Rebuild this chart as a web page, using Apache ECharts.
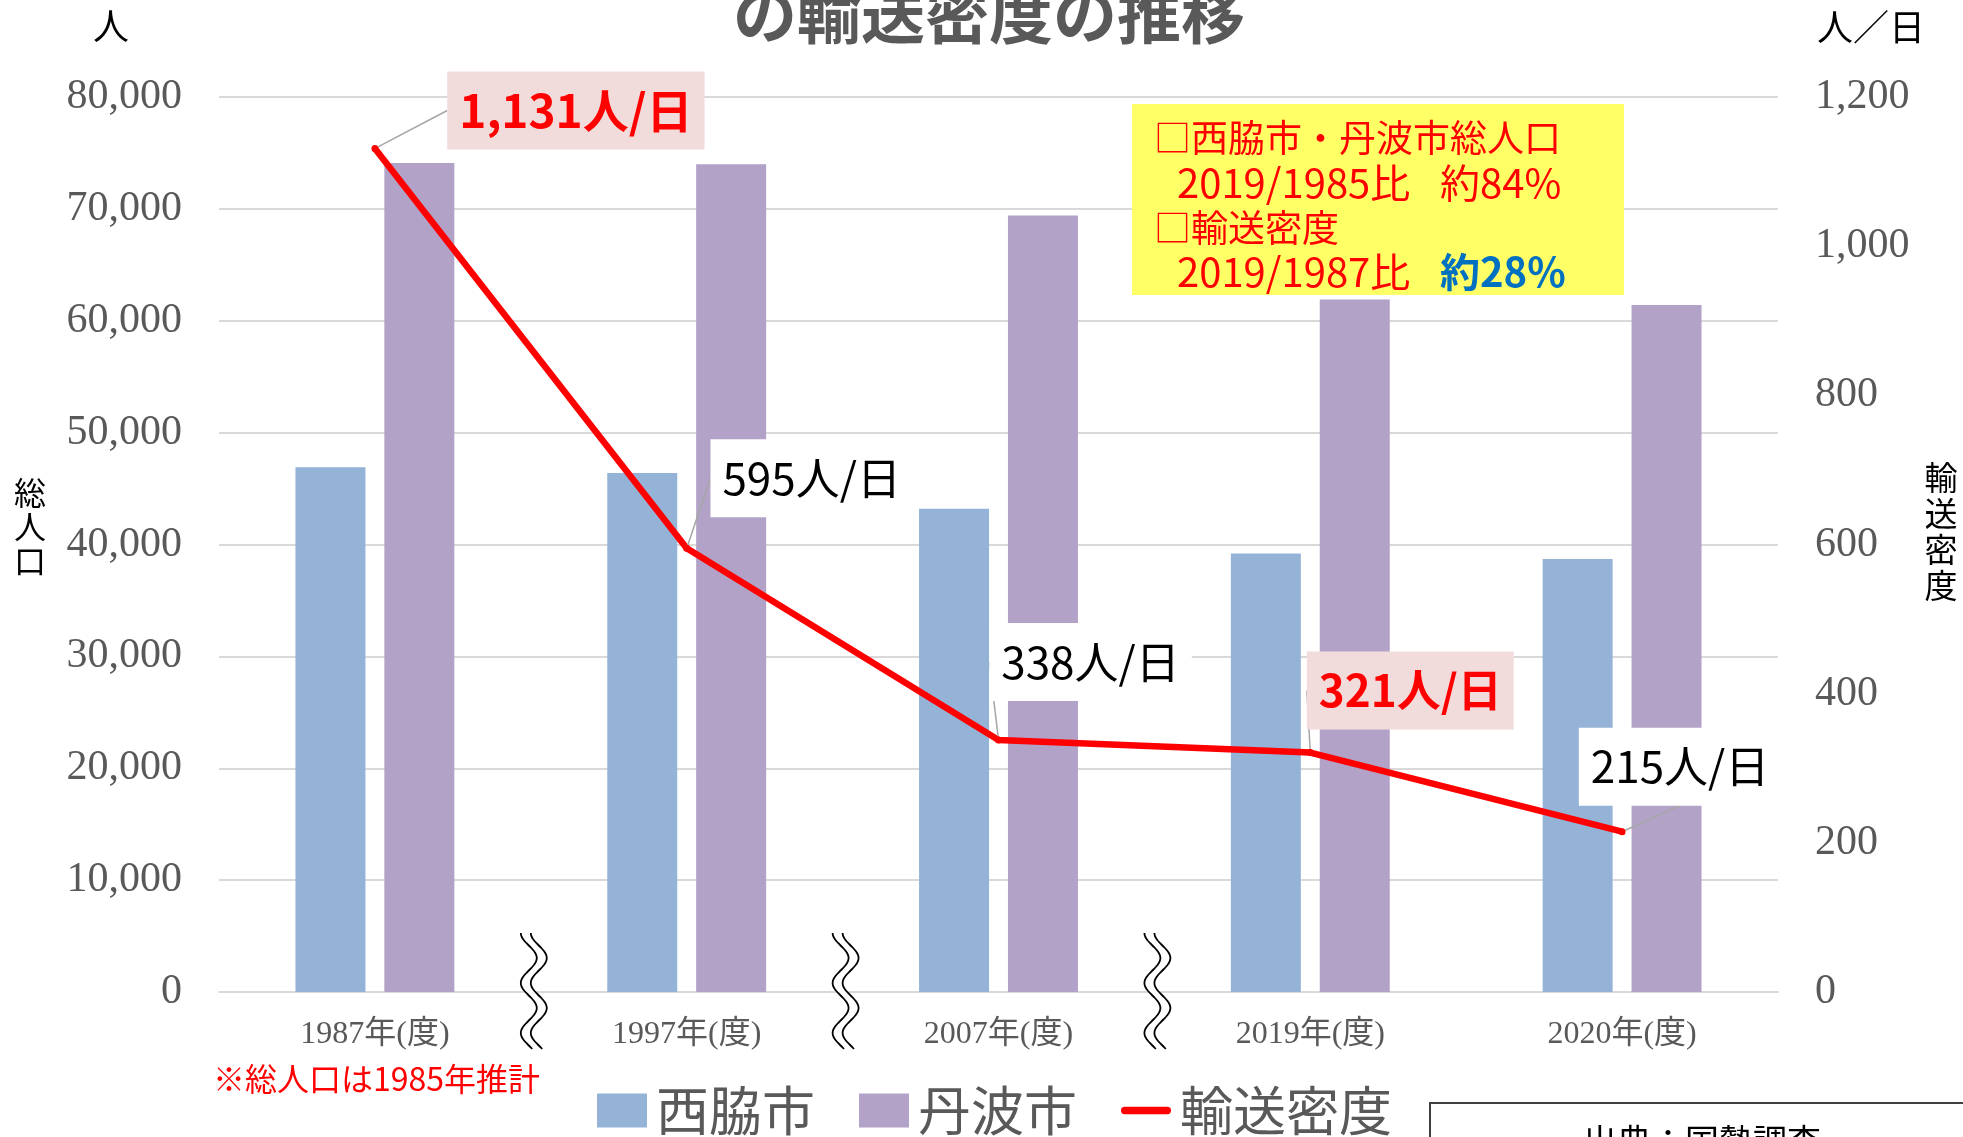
<!DOCTYPE html>
<html><head><meta charset="utf-8">
<script src="https://cdn.jsdelivr.net/npm/echarts@6/dist/echarts.min.js"></script>
<style>html,body{margin:0;padding:0;background:#fff}#c{width:1963px;height:1137px}</style>
</head><body><div id="c"></div>
<script>
// ---- data ----
const categories = ['1987年(度)', '1997年(度)', '2007年(度)', '2019年(度)', '2020年(度)'];
const nishiwakiPop = [46900, 46400, 43200, 39200, 38700];
const tambaPop = [74100, 74000, 69400, 61900, 61400];
const density = [1131, 595, 338, 321, 215];
const leftAxisTicks = [0, 10000, 20000, 30000, 40000, 50000, 60000, 70000, 80000];
const rightAxisTicks = [0, 200, 400, 600, 800, 1000, 1200];
const highlightedPoints = [0, 3];
// ---- layout ----
const labelOffsets = [[201, -38], [125, -70], [92, -78], [100, -62], [58, -65]];

const CJK = '"Noto Sans CJK JP", sans-serif';
const SERIF = '"Liberation Serif", "Noto Sans CJK JP", serif';
const fmt = v => Number(v).toLocaleString('en-US');

const chart = echarts.init(document.getElementById('c'), null, {renderer: 'canvas'});

const densityData = density.map((v, i) => {
  const hi = highlightedPoints.indexOf(i) >= 0;
  return {
    value: v,
    label: hi ? {
      color: '#FF0000', fontWeight: 'bold', fontSize: i === 0 ? 46 : 44,
      backgroundColor: '#F2DCDB', padding: [17, 12]
    } : {
      color: '#000000', fontWeight: 'normal', fontSize: 44,
      backgroundColor: '#FFFFFF', padding: [17, 12]
    }
  };
});

chart.setOption({
  animation: false,
  backgroundColor: '#ffffff',
  grid: {left: 219, right: 185, top: 97, bottom: 145},
  legend: {
    left: 597, top: 1084, padding: 0, itemWidth: 50, itemHeight: 34, itemGap: 44,
    textStyle: {fontSize: 53, color: '#595959', fontFamily: CJK, padding: [0, 0, 0, 4]},
    data: [
      {name: '西脇市', icon: 'rect'},
      {name: '丹波市', icon: 'rect'},
      {name: '輸送密度', icon: 'path://M4,0 L50,0 A4,4 0 0 1 50,8 L4,8 A4,4 0 0 1 4,0 Z'}
    ]
  },
  xAxis: {
    type: 'category', data: categories, boundaryGap: true,
    axisLine: {show: true, lineStyle: {color: '#D9D9D9', width: 2}},
    axisTick: {show: false},
    axisLabel: {fontSize: 32, color: '#595959', fontFamily: SERIF, margin: 27}
  },
  yAxis: [
    {
      type: 'value', min: leftAxisTicks[0], max: leftAxisTicks[leftAxisTicks.length - 1],
      interval: leftAxisTicks[1] - leftAxisTicks[0],
      axisLine: {show: false}, axisTick: {show: false},
      splitLine: {show: true, lineStyle: {color: '#D9D9D9', width: 2}},
      axisLabel: {fontSize: 42, color: '#595959', fontFamily: SERIF, margin: 37, formatter: fmt}
    },
    {
      type: 'value', min: rightAxisTicks[0], max: rightAxisTicks[rightAxisTicks.length - 1],
      interval: rightAxisTicks[1] - rightAxisTicks[0],
      axisLine: {show: false}, axisTick: {show: false}, splitLine: {show: false},
      axisLabel: {fontSize: 42, color: '#595959', fontFamily: SERIF, margin: 37, formatter: fmt}
    }
  ],
  series: [
    {
      name: '西脇市', type: 'bar', data: nishiwakiPop, barWidth: 70, barGap: '27%',
      itemStyle: {color: '#95B3D7'}
    },
    {
      name: '丹波市', type: 'bar', data: tambaPop, barWidth: 70, barGap: '27%',
      itemStyle: {color: '#B3A2C7'}
    },
    {
      name: '輸送密度', type: 'line', yAxisIndex: 1, data: densityData,
      symbol: 'circle', symbolSize: 7, showSymbol: true, z: 5,
      lineStyle: {color: '#FF0000', width: 6.5},
      itemStyle: {color: '#FF0000'},
      label: {
        show: true, position: 'inside', fontFamily: CJK, lineHeight: 44,
        formatter: p => fmt(p.value) + '人/日'
      },
      labelLine: {show: true, lineStyle: {color: '#A6A6A6', width: 1.5}},
      labelLayout: p => ({dx: labelOffsets[p.dataIndex][0], dy: labelOffsets[p.dataIndex][1]})
    }
  ]
});

// ---- decorations ----
function waveLine(cx, top, h, off) {
  const pts = [];
  for (let t = 0; t <= h; t += 2) {
    pts.push([cx + off - 8 * Math.cos(2 * Math.PI * t / 50), top + t]);
  }
  return pts;
}
const graphics = [];
for (let i = 0; i < 3; i++) {
  const xa = chart.convertToPixel({xAxisIndex: 0}, i);
  const xb = chart.convertToPixel({xAxisIndex: 0}, i + 1);
  const cx = (xa + xb) / 2 + 3;
  const a = waveLine(cx, 933, 117, -5), b = waveLine(cx, 933, 117, 5);
  graphics.push({type: 'polygon', z: 50, shape: {points: a.concat(b.slice().reverse())}, style: {fill: '#ffffff', stroke: null}});
  graphics.push({type: 'polyline', z: 51, shape: {points: a}, style: {stroke: '#000000', lineWidth: 1.8, fill: null}});
  graphics.push({type: 'polyline', z: 51, shape: {points: b}, style: {stroke: '#000000', lineWidth: 1.8, fill: null}});
}
// title (cut at top)
graphics.push({type: 'text', z: 60, x: 989, y: 14, style: {text: 'の輸送密度の推移', align: 'center', verticalAlign: 'middle', font: 'bold 64px "Noto Sans CJK JP"', fill: '#595959'}});
// unit labels
graphics.push({type: 'text', z: 60, x: 111, y: 26, style: {text: '人', align: 'center', verticalAlign: 'middle', font: '36px "Noto Sans CJK JP"', fill: '#000000'}});
graphics.push({type: 'text', z: 60, x: 1871, y: 27, style: {text: '人／日', align: 'center', verticalAlign: 'middle', font: '36px "Noto Sans CJK JP"', fill: '#000000'}});
// vertical axis titles
graphics.push({type: 'text', z: 60, x: 30, y: 527, style: {text: '総\n人\n口', align: 'center', verticalAlign: 'middle', font: '32px "Noto Sans CJK JP"', lineHeight: 34, fill: '#000000'}});
graphics.push({type: 'text', z: 60, x: 1941, y: 531, style: {text: '輸\n送\n密\n度', align: 'center', verticalAlign: 'middle', font: '33px "Noto Sans CJK JP"', lineHeight: 36, fill: '#000000'}});
// yellow note box
graphics.push({type: 'rect', z: 40, shape: {x: 1132, y: 104, width: 492, height: 191}, style: {fill: '#FFFF66'}});
const yl = {font: '37px "Noto Sans CJK JP"', fill: '#FF0000', verticalAlign: 'middle'};
const yl2 = {font: '40px "Noto Sans CJK JP"', fill: '#FF0000', verticalAlign: 'middle'};
graphics.push({type: 'text', z: 41, x: 1154, y: 138, style: Object.assign({text: '□西脇市・丹波市総人口'}, yl)});
graphics.push({type: 'text', z: 41, x: 1177, y: 183, style: Object.assign({text: '2019/1985比'}, yl2)});
graphics.push({type: 'text', z: 41, x: 1440, y: 183, style: Object.assign({text: '約84%'}, yl2)});
graphics.push({type: 'text', z: 41, x: 1154, y: 228, style: Object.assign({text: '□輸送密度'}, yl)});
graphics.push({type: 'text', z: 41, x: 1177, y: 272, style: Object.assign({text: '2019/1987比'}, yl2)});
graphics.push({type: 'text', z: 41, x: 1440, y: 272, style: {text: '約28%', font: 'bold 40px "Noto Sans CJK JP"', fill: '#0070C0', verticalAlign: 'middle'}});
// footnote
graphics.push({type: 'text', z: 60, x: 213, y: 1079, style: {text: '※総人口は1985年推計', verticalAlign: 'middle', font: '32px "Noto Sans CJK JP"', fill: '#FF0000'}});
// source box (cut at bottom)
graphics.push({type: 'rect', z: 60, shape: {x: 1430, y: 1103, width: 600, height: 100}, style: {fill: '#ffffff', stroke: '#404040', lineWidth: 2}});
graphics.push({type: 'text', z: 61, x: 1702, y: 1141, style: {text: '出典：国勢調査', align: 'center', verticalAlign: 'middle', font: '34px "Noto Sans CJK JP"', fill: '#000000'}});

chart.setOption({graphic: graphics});
</script>
</body></html>
